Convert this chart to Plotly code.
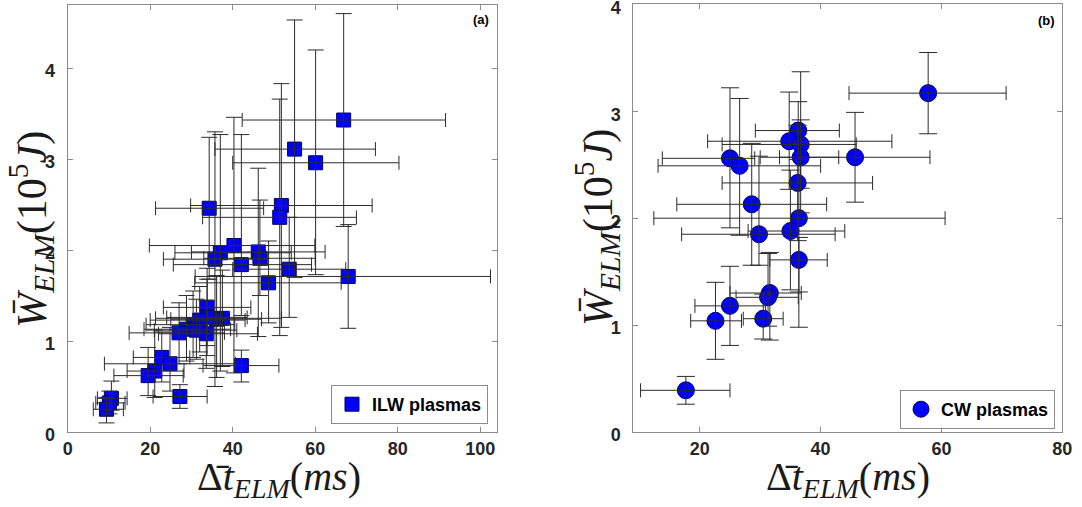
import plotly.graph_objects as go

# ---------------- Panel (a): ILW plasmas ----------------
a_x   = [66.9, 55.0, 60.1, 34.3, 51.8, 51.4, 40.3, 37.0, 35.7, 46.2, 46.6, 42.1, 53.7, 68.0, 48.7,
         33.8, 37.5, 36.1, 33.8, 32.0, 30.4, 28.8, 27.0, 33.6, 31.2,
         22.8, 24.8, 21.1, 19.5, 42.1, 27.2, 10.6, 10.1, 9.4]
a_y   = [3.43, 3.11, 2.96, 2.46, 2.49, 2.36, 2.05, 1.97, 1.90, 1.98, 1.91, 1.84, 1.79, 1.71, 1.64,
         1.37, 1.25, 1.24, 1.26, 1.23, 1.18, 1.13, 1.09, 1.08, 1.12,
         0.82, 0.75, 0.67, 0.62, 0.73, 0.39, 0.37, 0.32, 0.25]
a_xlo = [42.3, 35.7, 40.0, 21.3, 29.8, 32.7, 19.8, 26.0, 23.2, 30.0, 33.0, 25.6, 40.0, 30.9, 30.8,
         23.2, 21.3, 25.0, 24.0, 20.0, 19.0, 18.5, 14.9, 22.0, 21.0,
         15.9, 8.9, 14.4, 11.2, 32.8, 20.7, 7.2, 6.8, 6.2]
a_xhi = [91.6, 74.6, 80.3, 47.5, 73.8, 70.0, 59.9, 54.2, 48.5, 62.4, 60.0, 59.1, 67.4, 102.5, 66.3,
         44.4, 51.8, 47.0, 43.5, 43.0, 40.5, 39.5, 38.0, 46.0, 41.0,
         29.6, 40.7, 28.2, 28.0, 51.2, 33.8, 14.4, 13.9, 13.5]
a_ylo = [2.26, 1.70, 1.73, 1.68, 1.15, 1.06, 0.65, 0.67, 0.50, 1.05, 1.50, 1.28, 1.26, 1.14, 1.20,
         0.95, 0.72, 0.60, 0.84, 0.88, 0.82, 0.78, 0.75, 0.70, 0.80,
         0.55, 0.45, 0.38, 0.40, 0.55, 0.26, 0.24, 0.20, 0.10]
a_yhi = [4.60, 4.53, 4.20, 3.24, 3.83, 3.66, 3.46, 3.27, 3.30, 2.90, 2.55, 3.27, 2.36, 2.28, 2.10,
         1.80, 1.78, 1.72, 1.68, 1.60, 1.55, 1.50, 1.42, 1.45, 1.46,
         1.10, 1.15, 1.12, 0.93, 0.90, 0.52, 0.56, 0.45, 0.38]

# ---------------- Panel (b): CW plasmas ----------------
b_x   = [57.8, 36.3, 34.8, 36.7, 36.7, 45.7, 25.0, 26.6, 36.2, 28.6,
         36.4, 29.8, 35.0, 36.4, 31.6, 31.3, 25.0, 22.6, 30.5, 17.7]
b_y   = [3.17, 2.82, 2.72, 2.69, 2.57, 2.57, 2.56, 2.49, 2.33, 2.13,
         2.00, 1.85, 1.88, 1.61, 1.30, 1.26, 1.18, 1.04, 1.06, 0.39]
b_xlo = [44.7, 29.2, 21.3, 23.7, 30.0, 33.2, 13.8, 13.1, 23.7, 16.2,
         12.4, 17.0, 28.0, 31.6, 25.0, 26.0, 19.2, 18.5, 27.2, 10.2]
b_xhi = [70.7, 43.1, 51.8, 45.9, 43.0, 58.1, 29.1, 40.0, 48.6, 41.0,
         60.6, 42.4, 44.0, 41.1, 36.8, 36.3, 30.9, 26.9, 33.8, 25.0]
b_ylo = [2.79, 2.55, 2.27, 2.05, 2.28, 2.15, 1.91, 1.84, 1.79, 1.56,
         1.31, 1.56, 1.33, 0.98, 0.86, 0.99, 0.81, 0.68, 0.87, 0.26]
b_yhi = [3.55, 3.09, 3.18, 3.37, 2.92, 2.99, 3.22, 3.12, 2.87, 2.70,
         2.70, 2.58, 2.45, 1.82, 1.68, 1.67, 1.55, 1.40, 1.29, 0.52]

a_xticks = [0, 20, 40, 60, 80, 100]
a_yticks = [0, 1, 2, 3, 4]
b_xticks = [20, 40, 60, 80]
b_yticks = [0, 1, 2, 3, 4]

W, H = 1082, 507
BAR = "#2b2b2b"
BLUE = "#0000ff"

def errs(v, lo, hi):
    plus = [h - c for c, h in zip(v, hi)]
    minus = [c - l for c, l in zip(v, lo)]
    return plus, minus

fig = go.Figure()

# panel (a) markers
fig.add_trace(go.Scatter(
    x=a_x, y=a_y, mode="markers", name="<b>ILW plasmas</b>",
    marker=dict(symbol="square", size=14, color=BLUE, line=dict(color="#00006a", width=1)),
    xaxis="x", yaxis="y", legend="legend"))
ap, am = errs(a_x, a_xlo, a_xhi)
bp, bm = errs(a_y, a_ylo, a_yhi)
fig.add_trace(go.Scatter(
    x=a_x, y=a_y, mode="markers", showlegend=False, hoverinfo="skip",
    marker=dict(size=1, opacity=0),
    error_x=dict(type="data", symmetric=False, array=ap, arrayminus=am, color=BAR, thickness=1, width=7),
    error_y=dict(type="data", symmetric=False, array=bp, arrayminus=bm, color=BAR, thickness=1, width=8),
    xaxis="x", yaxis="y"))

# panel (b) markers
fig.add_trace(go.Scatter(
    x=b_x, y=b_y, mode="markers", name="<b>CW plasmas</b>",
    marker=dict(symbol="circle", size=17, color=BLUE, line=dict(color="#00006a", width=1)),
    xaxis="x2", yaxis="y2", legend="legend2"))
ap, am = errs(b_x, b_xlo, b_xhi)
bp, bm = errs(b_y, b_ylo, b_yhi)
fig.add_trace(go.Scatter(
    x=b_x, y=b_y, mode="markers", showlegend=False, hoverinfo="skip",
    marker=dict(size=1, opacity=0),
    error_x=dict(type="data", symmetric=False, array=ap, arrayminus=am, color=BAR, thickness=1, width=7),
    error_y=dict(type="data", symmetric=False, array=bp, arrayminus=bm, color=BAR, thickness=1, width=9),
    xaxis="x2", yaxis="y2"))

tickfont = dict(family="Liberation Sans", size=18, color="#262626")
ax_common = dict(showline=True, linecolor="#8c8c8c", linewidth=1, mirror="ticks",
                 ticks="inside", ticklen=5, tickcolor="#8c8c8c", showgrid=False, zeroline=False,
                 tickfont=tickfont, automargin=False, ticklabeloverflow="allow")

ybot = 1 - 432 / H
fig.update_layout(
    template="none",
    width=W, height=H, margin=dict(l=0, r=0, t=0, b=0, pad=0),
    paper_bgcolor="white", plot_bgcolor="white",
    xaxis=dict(domain=[67.7 / W, 496.7 / W], range=[0, 104], tickvals=a_xticks,
               ticktext=[f"<b>{t}</b>" for t in a_xticks], anchor="y", **ax_common),
    yaxis=dict(domain=[ybot, 1 - 4.5 / H], range=[0, 4.7], tickvals=a_yticks,
               ticktext=[f"<b>{t}</b>" for t in a_yticks], anchor="x",
               ticklabelstandoff=8, ticklabelshift=3, **ax_common),
    xaxis2=dict(domain=[633.3 / W, 1062.3 / W], range=[9, 80.001], tickvals=b_xticks,
                ticktext=[f"<b>{t}</b>" for t in b_xticks], anchor="y2", **ax_common),
    yaxis2=dict(domain=[ybot, 1 - 4.3 / H], range=[0, 4.001], tickvals=b_yticks,
                ticktext=[f"<b>{t}</b>" for t in b_yticks], anchor="x2",
                ticklabelstandoff=8, ticklabelshift=3, **ax_common),
    legend=dict(x=488 / W, xanchor="right", y=1 - 385 / H, yanchor="top",
                bgcolor="white", bordercolor="#8c8c8c", borderwidth=1,
                font=dict(family="Liberation Sans", size=18, color="black"), itemsizing="trace"),
    legend2=dict(x=1055 / W, xanchor="right", y=1 - 390 / H, yanchor="top",
                 bgcolor="white", bordercolor="#8c8c8c", borderwidth=1,
                 font=dict(family="Liberation Sans", size=18, color="black"), itemsizing="trace"),
    showlegend=True,
)

serif_x = dict(family="Liberation Serif", size=40, color="#1a1a1a")
serif_y = dict(family="Liberation Serif", size=42, color="#1a1a1a")
xtitle = "Δ̄<i>t</i><sub><i>ELM</i></sub>(<i>ms</i>)"
ytitle = "<i>W̄</i><sub><i>ELM</i></sub>(10<sup>5</sup><i>J</i>)"
ann = [
    dict(text=xtitle, x=279 / W, y=1 - 479 / H, xref="paper", yref="paper",
         xanchor="center", yanchor="middle", showarrow=False, font=serif_x),
    dict(text=xtitle, x=848 / W, y=1 - 479 / H, xref="paper", yref="paper",
         xanchor="center", yanchor="middle", showarrow=False, font=serif_x),
    dict(text=ytitle, x=31 / W, y=1 - 230 / H, xref="paper", yref="paper", textangle=-90,
         xanchor="center", yanchor="middle", showarrow=False, font=serif_y),
    dict(text=ytitle, x=597 / W, y=1 - 228 / H, xref="paper", yref="paper", textangle=-90,
         xanchor="center", yanchor="middle", showarrow=False, font=serif_y),
    dict(text="<b>(a)</b>", x=491 / W, y=1 - 20 / H, xref="paper", yref="paper",
         xanchor="right", yanchor="middle", showarrow=False,
         font=dict(family="Liberation Sans", size=13, color="black")),
    dict(text="<b>(b)</b>", x=1057 / W, y=1 - 21 / H, xref="paper", yref="paper",
         xanchor="right", yanchor="middle", showarrow=False,
         font=dict(family="Liberation Sans", size=13, color="black")),
]
fig.update_layout(annotations=ann)

fig.write_html("out.html", config={"displayModeBar": False},
               post_script="document.body.style.margin='0px';document.body.style.overflow='hidden';")
